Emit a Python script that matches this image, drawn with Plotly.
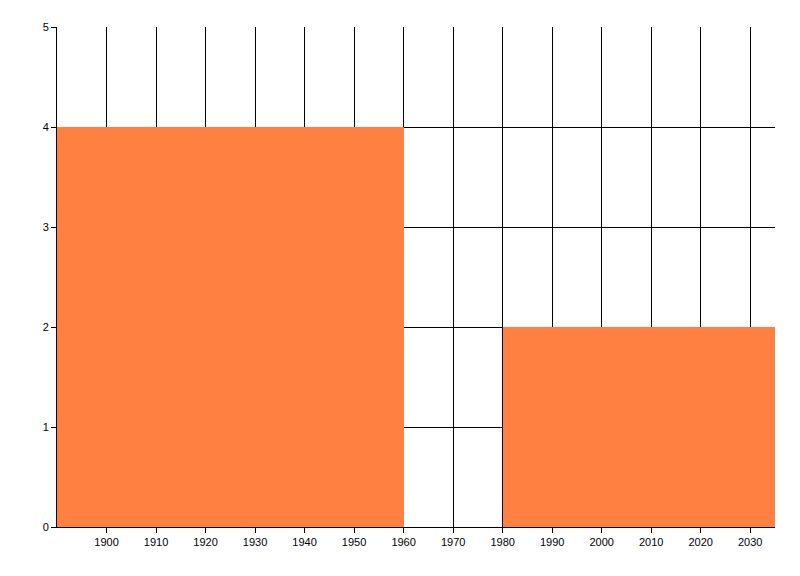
import plotly.graph_objects as go

bin_starts = [1890, 1980]
bin_ends = [1960, 2040]
values = [4, 2]
x_ticks = list(range(1900, 2031, 10))
y_ticks = [0, 1, 2, 3, 4, 5]

centers = [(a + b) / 2 for a, b in zip(bin_starts, bin_ends)]
widths = [b - a for a, b in zip(bin_starts, bin_ends)]

fig = go.Figure()
fig.add_trace(go.Bar(x=centers, y=values, width=widths,
                     marker=dict(color="rgb(255,128,65)", line=dict(width=0)),
                     showlegend=False, hoverinfo="skip"))

axis_font = dict(family="Liberation Sans, Arial, sans-serif", size=11, color="black")
fig.update_layout(
    width=800, height=576,
    margin=dict(l=49, r=33, t=19, b=57),
    paper_bgcolor="white", plot_bgcolor="white",
    bargap=0,
    xaxis=dict(range=[1890, 2035], tickvals=x_ticks, ticktext=[str(v) for v in x_ticks],
               showgrid=True, gridcolor="black", gridwidth=1,
               showline=True, linecolor="black", linewidth=1,
               ticks="outside", ticklen=5, tickcolor="black",
               tickfont=axis_font, zeroline=False, fixedrange=True),
    yaxis=dict(range=[0, 5], tickvals=y_ticks,
               showgrid=True, gridcolor="black", gridwidth=1,
               showline=True, linecolor="black", linewidth=1,
               ticks="outside", ticklen=5, tickcolor="black",
               tickfont=axis_font, zeroline=False, fixedrange=True),
)
fig.write_html("out.html")
